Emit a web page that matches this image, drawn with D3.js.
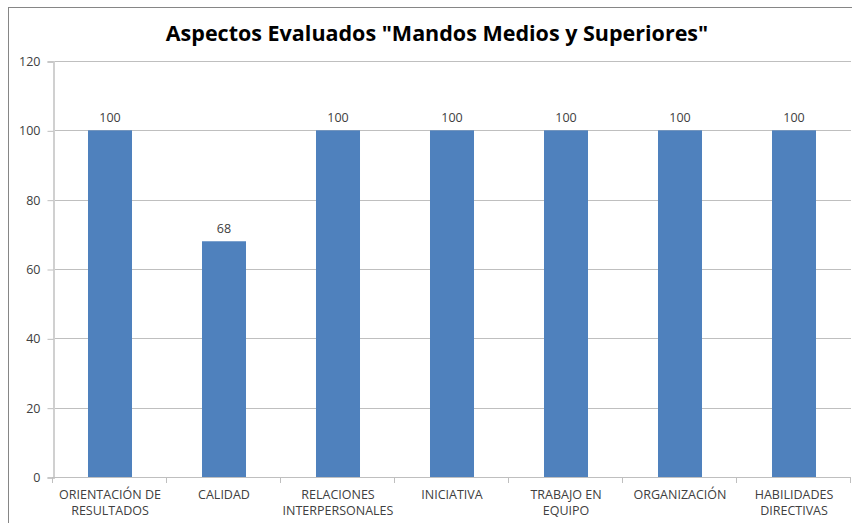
<!DOCTYPE html>
<html>
<head>
<meta charset="UTF-8">
<script src="https://d3js.org/d3.v7.min.js"></script>
<style>
  body { margin: 0; background: white; }
  text { font-family: "Open Sans", "Liberation Sans", sans-serif; fill: #404040; }
  .title { font-weight: bold; fill: #000; }
</style>
</head>
<body>
<script>
var categories = [
  ["ORIENTACIÓN DE", "RESULTADOS"],
  ["CALIDAD"],
  ["RELACIONES", "INTERPERSONALES"],
  ["INICIATIVA"],
  ["TRABAJO EN", "EQUIPO"],
  ["ORGANIZACIÓN"],
  ["HABILIDADES", "DIRECTIVAS"]
];
var values = [100, 68, 100, 100, 100, 100, 100];
var yTicks = [0, 20, 40, 60, 80, 100, 120];

var width = 852, height = 523;
var plotLeft = 53, plotRight = 851, plotTop = 61, plotBottom = 477;

var svg = d3.select("body").append("svg")
  .attr("width", width).attr("height", height);

// outer frame (cut by the picture on right/bottom)
svg.append("rect")
  .attr("x", 8.5).attr("y", 7.5)
  .attr("width", 900).attr("height", 600)
  .attr("fill", "none").attr("stroke", "#868686");

svg.append("text").attr("class", "title")
  .attr("x", 437).attr("y", 41)
  .attr("text-anchor", "middle")
  .style("font-size", "21.5px")
  .text('Aspectos Evaluados "Mandos Medios y Superiores"');

var x = d3.scaleBand()
  .domain(d3.range(categories.length))
  .range([plotLeft, plotRight])
  .paddingInner(0.614).paddingOuter(0.307);

var y = d3.scaleLinear().domain([0, 120]).range([plotBottom, plotTop]);

// gridlines
svg.append("g").selectAll("line").data(yTicks.filter(function (d) { return d > 0; }))
  .enter().append("line")
  .attr("x1", plotLeft).attr("x2", plotRight)
  .attr("y1", function (d) { return Math.round(y(d)) + 0.5; })
  .attr("y2", function (d) { return Math.round(y(d)) + 0.5; })
  .attr("stroke", "#bfbfbf");

// y axis
var yAxis = svg.append("g")
  .attr("transform", "translate(" + (plotLeft + 0.5) + ",0.5)")
  .call(d3.axisLeft(y).tickValues(yTicks).tickSize(6).tickPadding(7));
yAxis.select(".domain").attr("stroke", "#d0d0d0").attr("stroke-width", 2);
yAxis.selectAll(".tick line").attr("stroke", "#bfbfbf");
yAxis.selectAll(".tick text").style("font-size", "12.5px")
  .attr("fill", "#404040").attr("font-family", null);

// bars
svg.append("g").selectAll("rect").data(values)
  .enter().append("rect")
  .attr("x", function (d, i) { return x(i); })
  .attr("y", function (d) { return y(d); })
  .attr("width", x.bandwidth())
  .attr("height", function (d) { return plotBottom - y(d); })
  .attr("fill", "#4f81bd");

// value labels
svg.append("g").selectAll("text").data(values)
  .enter().append("text")
  .attr("x", function (d, i) { return x(i) + x.bandwidth() / 2; })
  .attr("y", function (d) { return y(d) - 8; })
  .attr("text-anchor", "middle")
  .style("font-size", "12.5px")
  .text(function (d) { return d; });

// x axis line and ticks
svg.append("line")
  .attr("x1", plotLeft).attr("x2", plotRight)
  .attr("y1", plotBottom + 0.5).attr("y2", plotBottom + 0.5)
  .attr("stroke", "#bfbfbf");
var bounds = d3.range(categories.length + 1).map(function (i) { return plotLeft + i * x.step(); });
svg.append("g").selectAll("line").data(bounds)
  .enter().append("line")
  .attr("x1", function (d) { return Math.round(d) - 0.5; })
  .attr("x2", function (d) { return Math.round(d) - 0.5; })
  .attr("y1", plotBottom).attr("y2", plotBottom + 6)
  .attr("stroke", "#bfbfbf");

// category labels
var labels = svg.append("g").selectAll("text").data(categories)
  .enter().append("text")
  .attr("text-anchor", "middle")
  .attr("transform", function (d, i) {
    return "translate(" + (x(i) + x.bandwidth() / 2) + "," + (plotBottom + 22) + ")";
  })
  .style("font-size", "12.5px");
labels.selectAll("tspan").data(function (d) { return d; })
  .enter().append("tspan")
  .attr("x", 0)
  .attr("dy", function (d, i) { return i === 0 ? 0 : 16; })
  .text(function (d) { return d; });
</script>
</body>
</html>
